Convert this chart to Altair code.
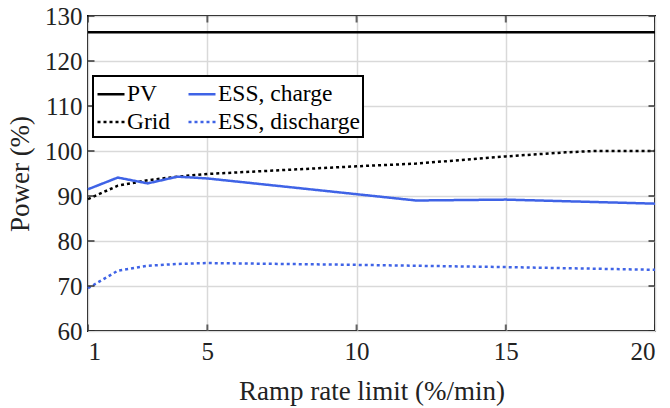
import altair as alt
import pandas as pd

# ---- data ----
pv_x = [1, 20]
pv_y = [126.4, 126.4]

grid_x = [1, 2, 3, 4, 5, 10, 12, 15, 17, 18, 20]
grid_y = [89.3, 92.3, 93.5, 94.3, 94.9, 96.6, 97.2, 98.8, 99.7, 100.0, 100.0]

chg_x = [1, 2, 3, 4, 5, 10, 12, 15, 20]
chg_y = [91.5, 94.1, 92.8, 94.3, 93.9, 90.4, 89.0, 89.2, 88.3]

dis_x = [1, 2, 3, 4, 5, 10, 15, 20]
dis_y = [69.5, 73.4, 74.5, 74.9, 75.1, 74.7, 74.2, 73.6]

series_names = ["PV", "Grid", "ESS, charge", "ESS, discharge"]
series_colors = ["#000000", "#000000", "#3f63e6", "#3f63e6"]
series_dash = [[1, 0], [3, 3], [1, 0], [3, 3]]

x_ticks = [1, 5, 10, 15, 20]
y_ticks = [60, 70, 80, 90, 100, 110, 120, 130]
x_domain = [1, 20]
y_domain = [60, 130]

rows = []
for name, xs, ys in [("PV", pv_x, pv_y), ("Grid", grid_x, grid_y),
                     ("ESS, charge", chg_x, chg_y), ("ESS, discharge", dis_x, dis_y)]:
    for a, b in zip(xs, ys):
        rows.append({"series": name, "x": a, "y": b})
df = pd.DataFrame(rows)
xt_df = pd.DataFrame({"x": x_ticks})
yt_df = pd.DataFrame({"y": y_ticks})

FONT = "Liberation Serif, Times New Roman, serif"

x_scale = alt.Scale(domain=x_domain, nice=False, zero=False)
y_scale = alt.Scale(domain=y_domain, nice=False, zero=False)
x_axis = alt.Axis(values=x_ticks, title="Ramp rate limit (%/min)",
                  labelPadding=8, titlePadding=14)
y_axis = alt.Axis(values=y_ticks, title="Power (%)",
                  labelPadding=6, titlePadding=10)


def make_legend():
    return alt.Legend(title=None, orient="none", legendX=5, legendY=60,
                      columns=2, strokeColor="black",
                      padding=3, fillColor="white",
                      symbolType="stroke", symbolSize=729,
                      symbolStrokeWidth=2.5,
                      labelFont=FONT, labelFontSize=23.5,
                      labelColor="black", rowPadding=1,
                      columnPadding=12, labelOffset=1)


lines = alt.Chart(df).mark_line(strokeWidth=2.5).encode(
    x=alt.X("x:Q", scale=x_scale, axis=x_axis),
    y=alt.Y("y:Q", scale=y_scale, axis=y_axis),
    color=alt.Color("series:N",
                    scale=alt.Scale(domain=series_names, range=series_colors),
                    legend=make_legend()),
    strokeDash=alt.StrokeDash("series:N",
                              scale=alt.Scale(domain=series_names, range=series_dash),
                              legend=make_legend()),
    order=alt.Order("x:Q"),
)

tick_style = dict(clip=True, size=13, thickness=2, color="#262626")

# inward ticks (MATLAB style) on all four sides, clipped to the plot area
xt_bottom = alt.Chart(xt_df).mark_tick(orient="vertical", **tick_style).encode(
    x=alt.X("x:Q", scale=x_scale, axis=x_axis), y=alt.datum(y_domain[0]))
xt_top = alt.Chart(xt_df).mark_tick(orient="vertical", **tick_style).encode(
    x=alt.X("x:Q", scale=x_scale, axis=x_axis), y=alt.datum(y_domain[1]))
yt_left = alt.Chart(yt_df).mark_tick(orient="horizontal", **tick_style).encode(
    y=alt.Y("y:Q", scale=y_scale, axis=y_axis), x=alt.datum(x_domain[0]))
yt_right = alt.Chart(yt_df).mark_tick(orient="horizontal", **tick_style).encode(
    y=alt.Y("y:Q", scale=y_scale, axis=y_axis), x=alt.datum(x_domain[1]))

chart = alt.layer(lines, xt_bottom, xt_top, yt_left, yt_right).properties(
    width=567, height=315,
    autosize=alt.AutoSizeParams(type="none"),
    padding={"left": 88, "top": 16, "right": 15, "bottom": 77},
).configure(
    font=FONT
).configure_view(
    stroke="black", strokeWidth=2
).configure_legend(
    strokeWidth=2
).configure_axis(
    domain=False, ticks=False,
    grid=True, gridColor="#d9d9d9", gridWidth=1.5,
    labelFont=FONT, labelFontSize=25, labelColor="#222222",
    titleFont=FONT, titleFontSize=27, titleFontWeight="normal", titleColor="#222222",
)

chart.save("out.html", embed_options={"renderer": "svg", "actions": False})
